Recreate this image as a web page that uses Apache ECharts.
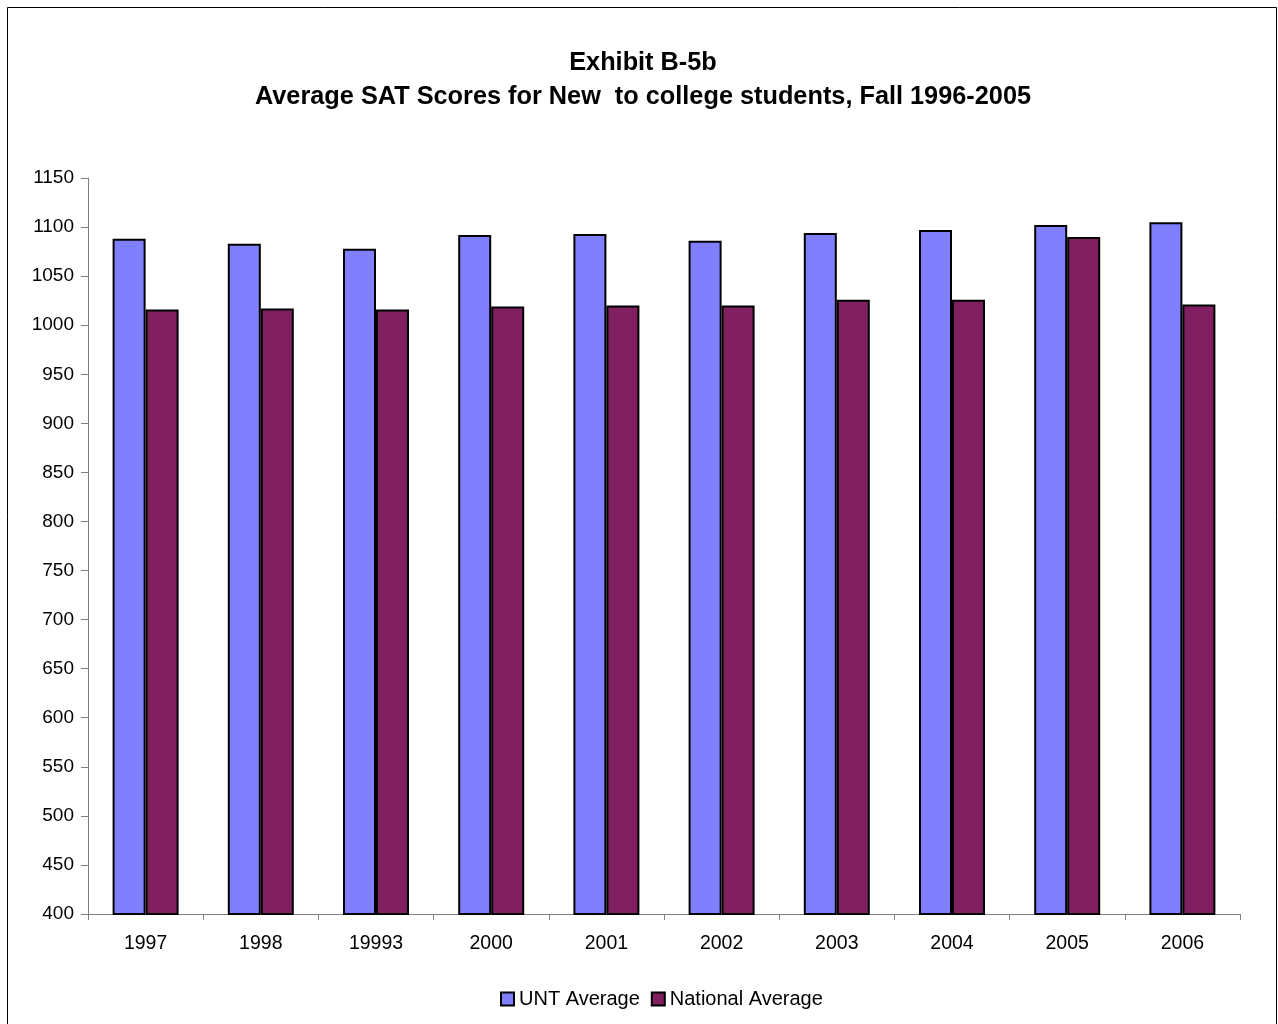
<!DOCTYPE html>
<html>
<head>
<meta charset="utf-8">
<script src="https://cdn.jsdelivr.net/npm/echarts@6/dist/echarts.min.js"></script>
<style>html,body{margin:0;padding:0;background:#fff;}#c{width:1278px;height:1024px;}</style>
</head>
<body>
<div id="c"></div>
<script>
var categories = ['1997', '1998', '19993', '2000', '2001', '2002', '2003', '2004', '2005', '2006'];
var untAverage = [1088, 1083, 1078, 1092, 1093, 1086, 1094, 1097, 1102, 1105];
var nationalAverage = [1016, 1017, 1016, 1019, 1020, 1020, 1026, 1026, 1090, 1021];
var titleLines = ['Exhibit B-5b', 'Average SAT Scores for New  to college students, Fall 1996-2005'];

var chart = echarts.init(document.getElementById('c'), null, {renderer: 'canvas'});
var font = 'Liberation Sans, Arial, sans-serif';
chart.setOption({
  backgroundColor: '#ffffff',
  animation: false,
  graphic: [{
    type: 'rect', silent: true, z: 100,
    shape: {x: 7.5, y: 7.5, width: 1269, height: 1040},
    style: {fill: 'none', stroke: '#000', lineWidth: 1}
  }],
  title: {
    text: titleLines.join('\n'),
    left: 638, top: 41,
    textAlign: 'center',
    textStyle: {fontFamily: font, fontSize: 25.3, fontWeight: 'bold', color: '#000', lineHeight: 34, align: 'center'}
  },
  legend: {
    left: 495, top: 984,
    itemWidth: 13, itemHeight: 13, itemGap: 11,
    icon: 'rect',
    textStyle: {fontFamily: font, fontSize: 20, color: '#000'},
    data: ['UNT Average', 'National Average']
  },
  grid: {left: 88, right: 38, top: 178, bottom: 110, containLabel: false},
  xAxis: {
    type: 'category', data: categories,
    axisLine: {lineStyle: {color: '#808080', width: 1}},
    axisTick: {show: true, length: 6, lineStyle: {color: '#808080'}},
    axisLabel: {fontFamily: font, fontSize: 19.5, color: '#000', margin: 20},
    splitLine: {show: false}
  },
  yAxis: {
    type: 'value', min: 400, max: 1150, interval: 50,
    axisLine: {show: true, lineStyle: {color: '#808080', width: 1}},
    axisTick: {show: true, length: 7, lineStyle: {color: '#808080'}},
    axisLabel: {fontFamily: font, fontSize: 19, color: '#000', margin: 14,
      formatter: function (v) { return String(v); }},
    splitLine: {show: false}
  },
  series: [{
    name: 'UNT Average', type: 'bar', data: untAverage,
    barWidth: 33, barGap: '0%',
    itemStyle: {color: '#8080FF', borderColor: '#000', borderWidth: 2}
  }, {
    name: 'National Average', type: 'bar', data: nationalAverage,
    barWidth: 33, barGap: '0%',
    itemStyle: {color: '#802060', borderColor: '#000', borderWidth: 2}
  }]
});
</script>
</body>
</html>
